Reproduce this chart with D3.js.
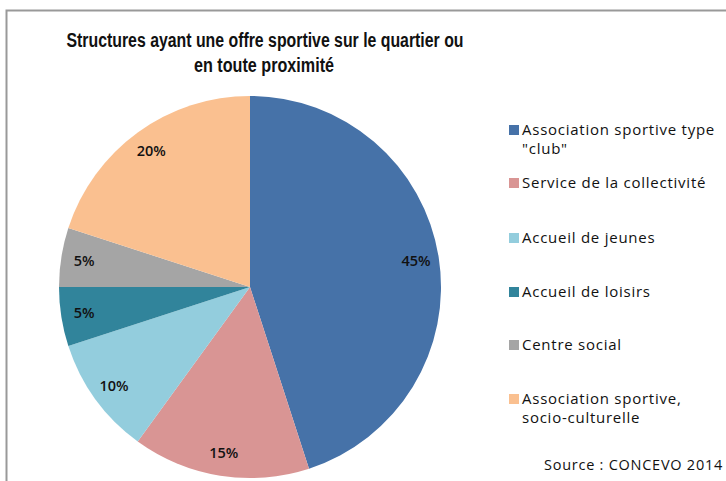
<!DOCTYPE html>
<html>
<head>
<meta charset="utf-8">
<script src="https://cdn.jsdelivr.net/npm/d3@7"></script>
<style>
  body { margin: 0; background: #fff; }
  svg { display: block; }
</style>
</head>
<body>
<div id="chart-area"></div>
<script>
// data
var categories = ["Association sportive type \"club\"", "Service de la collectivité", "Accueil de jeunes",
                  "Accueil de loisirs", "Centre social", "Association sportive, socio-culturelle"];
var legendLines = [["Association sportive type", "\"club\""], ["Service de la collectivité"], ["Accueil de jeunes"],
                   ["Accueil de loisirs"], ["Centre social"], ["Association sportive,", "socio-culturelle"]];
var values = [45, 15, 10, 5, 5, 20];
var colors = ["#4672a8", "#d99594", "#93cddd", "#31849b", "#a5a5a5", "#fac090"];

var width = 726, height = 481;
var cx = 250, cy = 287, radius = 191;

var svg = d3.select("#chart-area").append("svg").attr("width", width).attr("height", height);

// frame (only top and left edges visible)
svg.append("path").attr("d", "M6.5,481 L6.5,10.5 L726,10.5")
    .attr("fill", "none").attr("stroke", "#999").attr("stroke-width", 2);

var titleFont = "Liberation Sans, Arial, sans-serif";
svg.append("text").attr("x", 265).attr("y", 47).attr("text-anchor", "middle")
    .attr("font-family", titleFont).attr("font-weight", "bold")
    .attr("font-size", "19.5px").attr("fill", "#111")
    .attr("textLength", 397).attr("lengthAdjust", "spacingAndGlyphs")
    .text("Structures ayant une offre sportive sur le quartier ou");
svg.append("text").attr("x", 264).attr("y", 72).attr("text-anchor", "middle")
    .attr("font-family", titleFont).attr("font-weight", "bold")
    .attr("font-size", "19.5px").attr("fill", "#111")
    .attr("textLength", 140).attr("lengthAdjust", "spacingAndGlyphs")
    .text("en toute proximité");

var pie = d3.pie().sort(null).value(function(d) { return d; });
var arc = d3.arc().innerRadius(0).outerRadius(radius);
var labelArc = d3.arc().innerRadius(168).outerRadius(168);

var g = svg.append("g").attr("transform", "translate(" + cx + "," + cy + ")");
var slices = pie(values);

g.selectAll("path.slice").data(slices).enter().append("path")
    .attr("class", "slice")
    .attr("d", arc)
    .attr("fill", function(d, i) { return colors[i]; });

g.selectAll("text.lbl").data(slices).enter().append("text")
    .attr("class", "lbl")
    .attr("transform", function(d) { return "translate(" + labelArc.centroid(d) + ")"; })
    .attr("text-anchor", "middle").attr("dy", "0.35em")
    .attr("font-family", "Open Sans, sans-serif").attr("font-size", "14.5px").attr("font-weight", 600)
    .attr("fill", "#111")
    .text(function(d) { return d.value + "%"; });

// legend
var legendY = [130, 183, 238, 292, 345, 399];
var legend = svg.selectAll("g.leg").data(categories).enter().append("g")
    .attr("class", "leg")
    .attr("transform", function(d, i) { return "translate(509," + legendY[i] + ")"; });

legend.append("rect").attr("x", 0).attr("y", -5).attr("width", 10).attr("height", 10)
    .attr("fill", function(d, i) { return colors[i]; });

legend.each(function(d, i) {
    var t = d3.select(this).append("text")
        .attr("font-family", "Open Sans, sans-serif").attr("font-size", "15px").attr("fill", "#111")
        .attr("letter-spacing", "0.75px");
    legendLines[i].forEach(function(line, j) {
        t.append("tspan").attr("x", 13).attr("y", j * 19).attr("dy", "0.35em").text(line);
    });
});

svg.append("text").attr("x", 723).attr("y", 465).attr("dy", "0.35em").attr("text-anchor", "end")
    .attr("font-family", "Open Sans, sans-serif").attr("font-size", "14.5px").attr("fill", "#111")
    .attr("letter-spacing", "0.75px")
    .text("Source : CONCEVO 2014");
</script>
</body>
</html>
